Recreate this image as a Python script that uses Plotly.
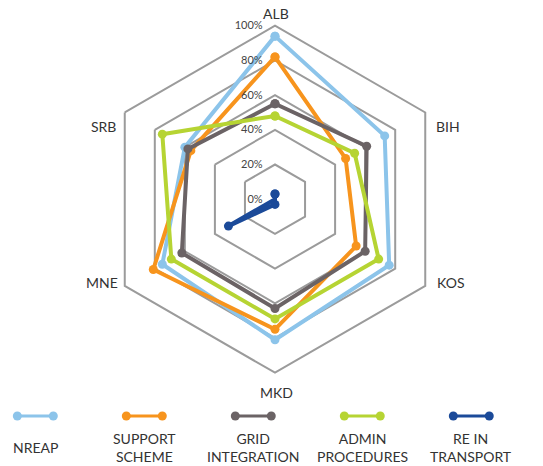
import plotly.graph_objects as go

# Countries around the radar, clockwise from the top
countries = ["ALB", "BIH", "KOS", "MKD", "MNE", "SRB"]

# Scores per indicator (percent)
nreap = [94, 73, 76, 81, 75, 60]
support_scheme = [82, 47, 54, 75, 81, 56]
grid_integration = [55, 61, 60, 63, 62, 58]
admin_procedures = [48, 53, 69, 69, 69, 75]
re_in_transport = [3, 0, 0, 3, 31, 0]

series_names = ["NREAP", "SUPPORT<br>SCHEME", "GRID<br>INTEGRATION",
                "ADMIN<br>PROCEDURES", "RE IN<br>TRANSPORT"]
series_values = [nreap, support_scheme, grid_integration, admin_procedures, re_in_transport]
series_colors = ["#8cc4ea", "#f7941d", "#6b6365", "#b6d433", "#1b4a99"]

radial_ticks = [0, 20, 40, 60, 80, 100]
radial_labels = [f"{t}%" for t in radial_ticks]

# Where each country name sits on the page (pixels from top-left)
country_label_px = {
    "ALB": (276, 13), "BIH": (448, 126), "KOS": (450, 282),
    "MKD": (276, 392), "MNE": (102, 282), "SRB": (103, 126),
}

W, H = 543, 466
FONT = "Lato"
GRID_COLOR = "#9b9b9b"

fig = go.Figure()

for name, vals, col in zip(series_names, series_values, series_colors):
    fig.add_trace(go.Scatterpolar(
        r=vals + vals[:1],
        theta=countries + countries[:1],
        mode="lines+markers",
        name=name.replace("<br>", " "),
        line=dict(color=col, width=4),
        marker=dict(color=col, size=9),
        showlegend=False,
    ))

# Country names around the outer hexagon
for c in countries:
    px, py = country_label_px[c]
    fig.add_annotation(
        x=px / W, y=1 - py / H, xref="paper", yref="paper",
        text=c, showarrow=False,
        font=dict(family=FONT, size=14, color="#333333"),
        xanchor="center", yanchor="middle",
    )

# Legend row under the chart: one key per series, label centred below
for i, (name, col) in enumerate(zip(series_names, series_colors)):
    fig.add_trace(go.Scatter(
        x=[i - 0.165, i + 0.165], y=[0.536, 0.536],
        mode="lines+markers",
        line=dict(color=col, width=3),
        marker=dict(color=col, size=9),
        xaxis="x", yaxis="y",
        showlegend=False, hoverinfo="skip",
    ))
    fig.add_annotation(
        x=i, y=0.196, xref="x", yref="y",
        text=name, showarrow=False,
        font=dict(family=FONT, size=14, color="#333333"),
        align="center", valign="middle",
    )

fig.update_layout(
    width=W, height=H,
    margin=dict(l=0, r=0, t=0, b=0),
    paper_bgcolor="white",
    plot_bgcolor="rgba(0,0,0,0)",
    font=dict(family=FONT, color="#333333"),
    showlegend=False,
    polar=dict(
        domain=dict(x=[0.1869, 0.8260], y=[0.2002, 0.9448]),
        gridshape="linear",
        bgcolor="rgba(0,0,0,0)",
        radialaxis=dict(
            range=[0, 100],
            angle=90,
            side="counterclockwise",
            tickvals=radial_ticks,
            ticktext=radial_labels,
            tickangle=90,
            ticks="outside", ticklen=8, tickcolor="rgba(0,0,0,0)",
            tickfont=dict(family=FONT, size=11, color="#444444"),
            showline=False,
            gridcolor=GRID_COLOR, gridwidth=2,
        ),
        angularaxis=dict(
            direction="clockwise",
            rotation=90,
            showgrid=False,
            showticklabels=False,
            ticks="",
            linecolor=GRID_COLOR, linewidth=2,
        ),
    ),
    xaxis=dict(domain=[0, 1], range=[-0.324, 4.658], visible=False, fixedrange=True),
    yaxis=dict(domain=[0, 0.2], range=[0, 1], visible=False, fixedrange=True),
)

fig.write_html("out.html")
